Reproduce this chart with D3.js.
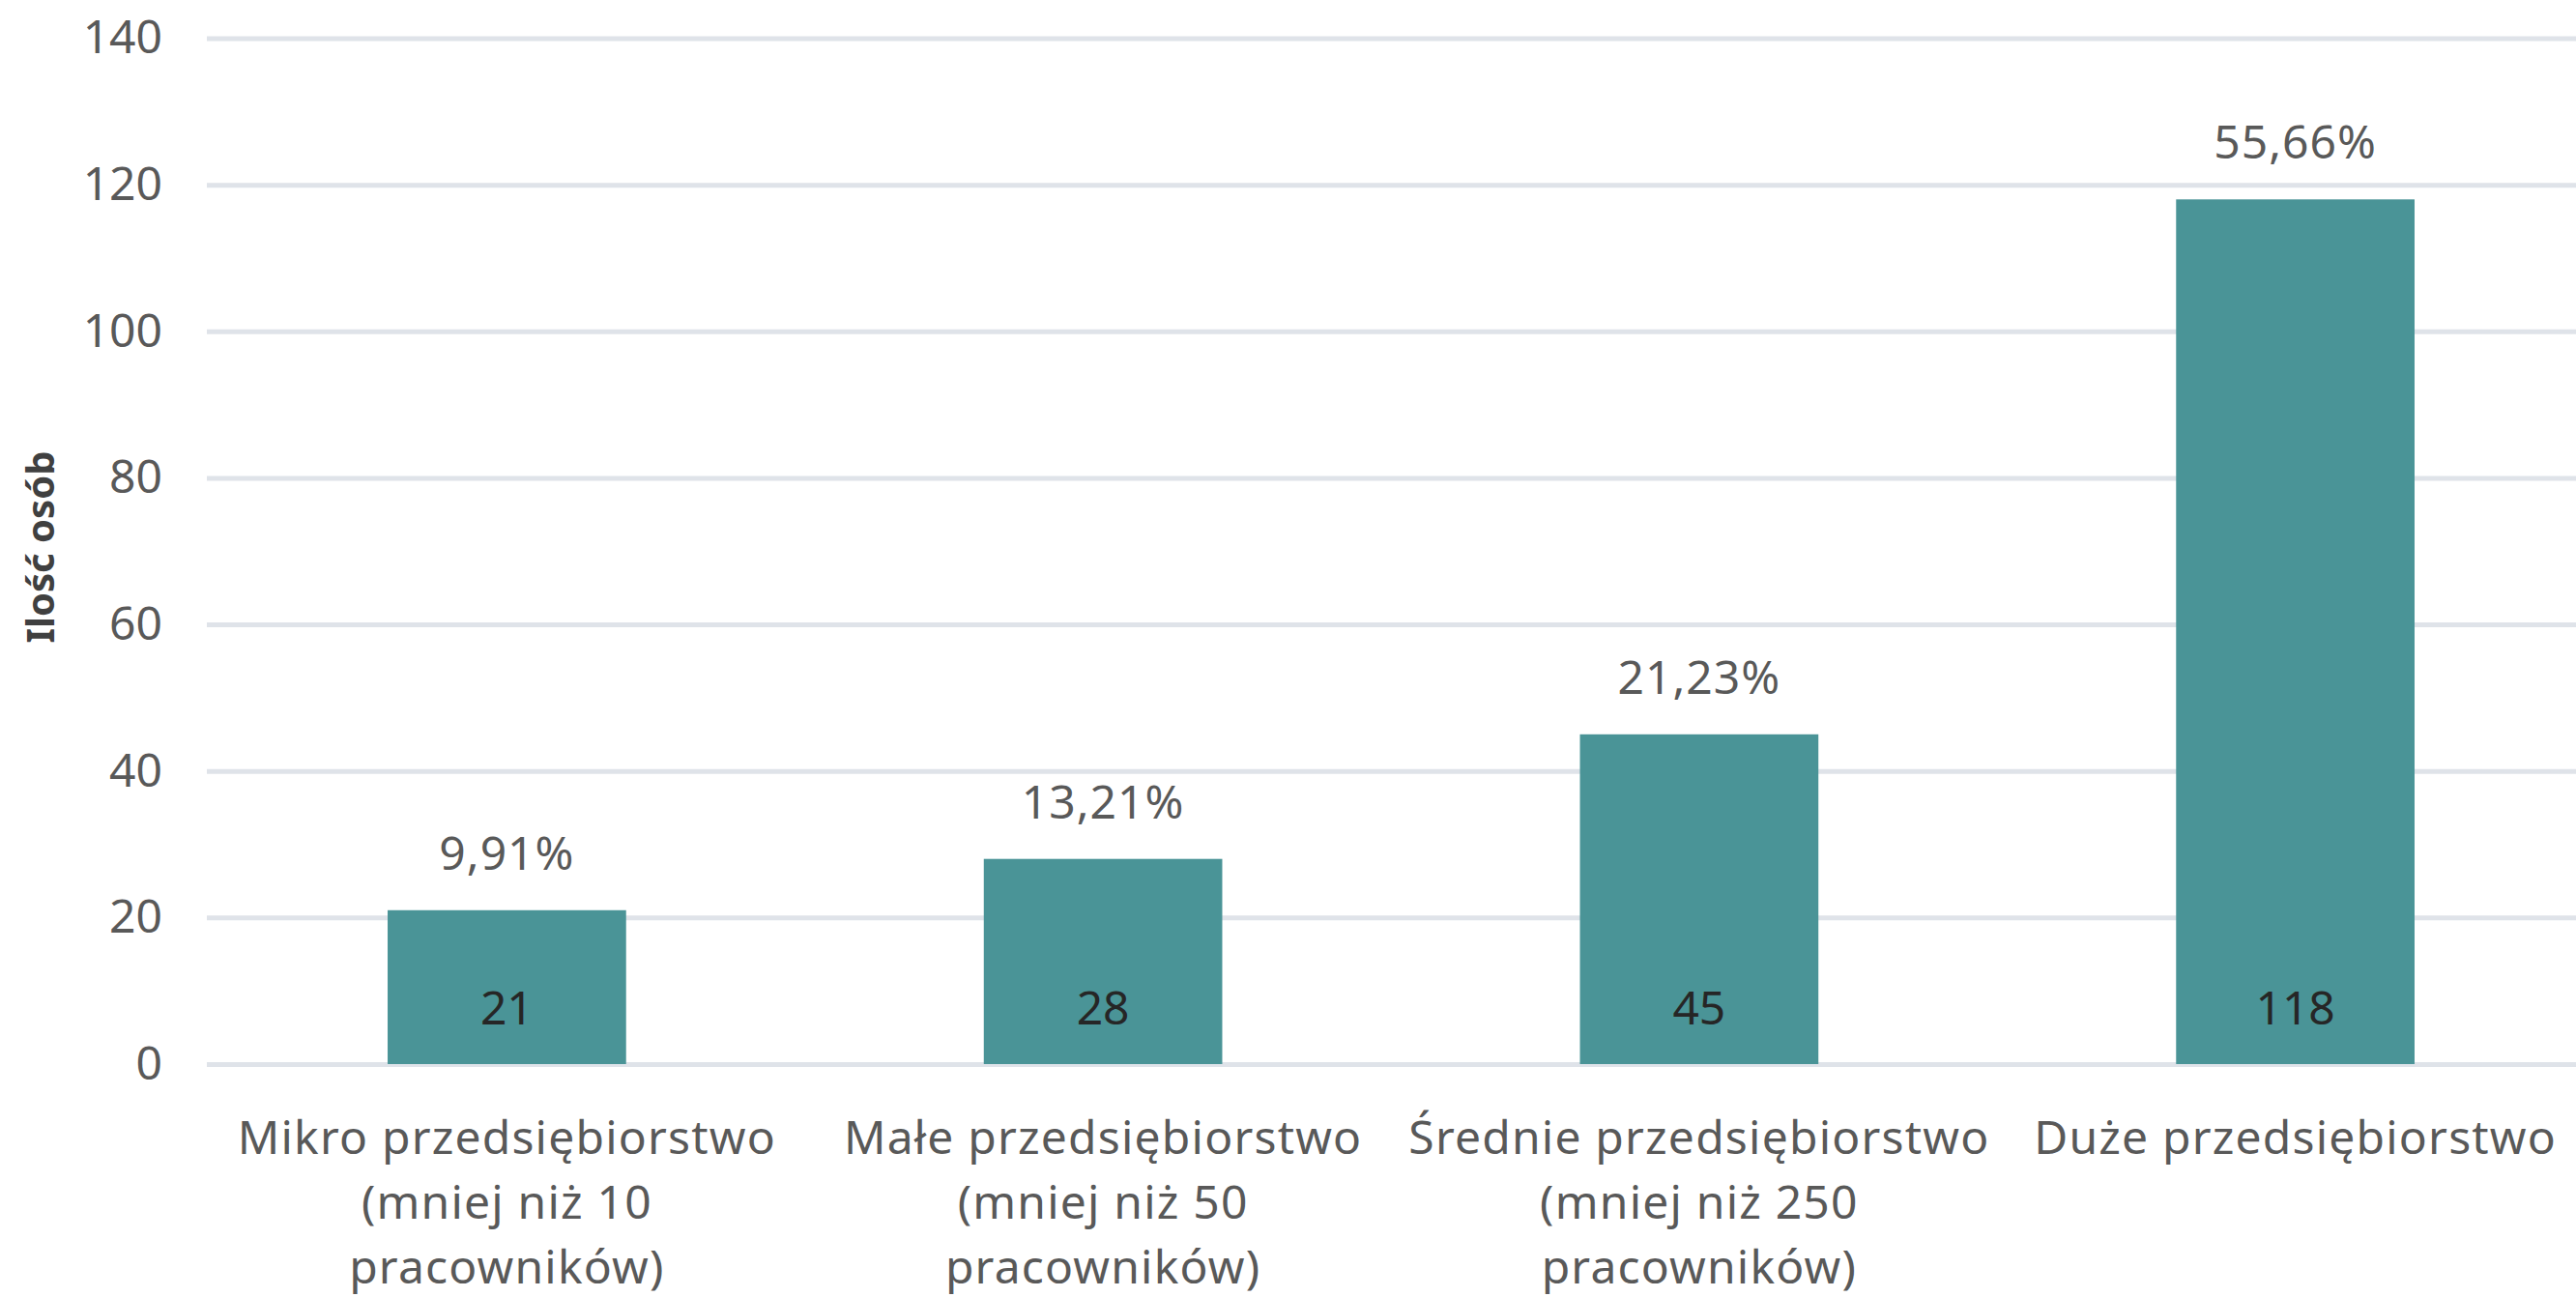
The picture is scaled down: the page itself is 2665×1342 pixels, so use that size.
<!DOCTYPE html>
<html>
<head>
<meta charset="utf-8">
<script src="https://cdn.jsdelivr.net/npm/d3@7"></script>
<style>
  body { margin: 0; background: #fff; }
  text { font-family: "Noto Sans", Lato, sans-serif; }
</style>
</head>
<body>
<div id="container"></div>
<script>
var width = 2665,
    height = 1342;

// data
var categories = [
    "Mikro przedsiębiorstwo\n(mniej niż 10\npracowników)",
    "Małe przedsiębiorstwo\n(mniej niż 50\npracowników)",
    "Średnie przedsiębiorstwo\n(mniej niż 250\npracowników)",
    "Duże przedsiębiorstwo"
];
var counts = [21, 28, 45, 118];
var shares = ["9,91%", "13,21%", "21,23%", "55,66%"];
var yTicks = [0, 20, 40, 60, 80, 100, 120, 140];
var yTitle = "Ilość osób";

var mLeft = 216, mRight = 2683, mTop = 39.5, mBottom = 1101;
var fs = 48;

var svg = d3.select("#container").append("svg")
    .attr("width", width)
    .attr("height", height);

var x = d3.scaleBand()
    .domain(categories)
    .range([mLeft, mRight])
    .paddingInner(0.6)
    .paddingOuter(0.3);

var y = d3.scaleLinear()
    .domain([0, 140])
    .range([mBottom, mTop]);

// gridlines + tick labels
var yAxis = svg.append("g")
    .attr("transform", "translate(" + mLeft + ",0)")
    .call(d3.axisLeft(y)
        .tickValues(yTicks)
        .tickSize(-(width - mLeft))
        .tickPadding(48));
yAxis.select(".domain").remove();
yAxis.selectAll(".tick line")
    .attr("x1", -2)
    .attr("stroke", "#dfe3e9")
    .attr("stroke-width", 5);
yAxis.selectAll(".tick text")
    .attr("fill", "#595959")
    .style("font-size", fs + "px")
    .style("font-family", "'Noto Sans', Lato, sans-serif");

// bars
svg.selectAll(".bar")
    .data(counts)
    .enter().append("rect")
    .attr("class", "bar")
    .attr("x", (d, i) => x(categories[i]))
    .attr("y", d => y(d))
    .attr("width", x.bandwidth())
    .attr("height", d => y(0) - y(d))
    .attr("fill", "#4a9497");

// values inside the bars
svg.selectAll(".val")
    .data(counts)
    .enter().append("text")
    .attr("class", "val")
    .attr("x", (d, i) => x(categories[i]) + x.bandwidth() / 2)
    .attr("y", y(0) - 41)
    .attr("text-anchor", "middle")
    .attr("fill", "#262626")
    .style("font-size", fs + "px")
    .text(d => d);

// shares above the bars
svg.selectAll(".share")
    .data(shares)
    .enter().append("text")
    .attr("class", "share")
    .attr("x", (d, i) => x(categories[i]) + x.bandwidth() / 2)
    .attr("y", (d, i) => y(counts[i]) - 42)
    .attr("text-anchor", "middle")
    .attr("fill", "#595959")
    .style("font-size", fs + "px")
    .style("letter-spacing", "1px")
    .text(d => d);

// category labels
var cat = svg.selectAll(".cat")
    .data(categories)
    .enter().append("text")
    .attr("class", "cat")
    .attr("text-anchor", "middle")
    .attr("fill", "#595959")
    .style("font-size", fs + "px")
    .style("letter-spacing", "1.2px");
cat.selectAll("tspan")
    .data(d => d.split("\n").map(s => ({ s: s, c: d })))
    .enter().append("tspan")
    .attr("x", d => x(d.c) + x.bandwidth() / 2)
    .attr("y", (d, i) => 1194 + i * 67)
    .text(d => d.s);

// y axis title
svg.append("text")
    .attr("transform", "translate(56,566) rotate(-90)")
    .attr("text-anchor", "middle")
    .attr("fill", "#404040")
    .style("font-size", "40px")
    .style("font-weight", "bold")
    .text(yTitle);
</script>
</body>
</html>
